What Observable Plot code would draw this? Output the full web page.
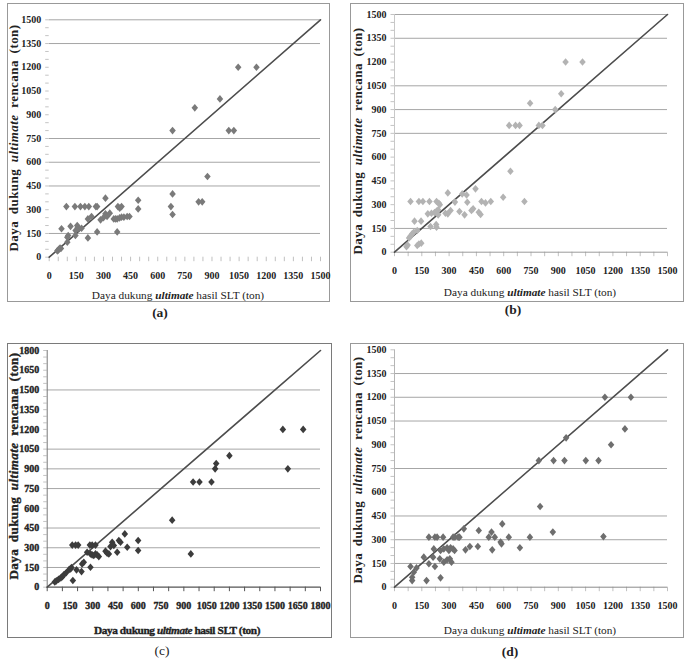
<!DOCTYPE html>
<html><head><meta charset="utf-8">
<script src="https://cdn.jsdelivr.net/npm/d3@7"></script>
<script src="https://cdn.jsdelivr.net/npm/@observablehq/plot@0.6"></script>
<style>
body{margin:0;background:#fff;}
#root{position:relative;width:686px;height:659px;font-family:"Liberation Serif","Times New Roman",serif;color:#222;overflow:hidden;}
.box{position:absolute;border:1px solid #8e8e8e;box-sizing:border-box;}
.plot{position:absolute;}
.ytitle{position:absolute;transform:translate(-50%,-50%) rotate(-90deg);white-space:nowrap;font-weight:bold;font-size:13px;letter-spacing:0.45px;word-spacing:3px;}
.xtitle{position:absolute;transform:translate(-50%,-50%);white-space:nowrap;font-size:11.3px;}
.cap{position:absolute;transform:translate(-50%,-50%);font-weight:bold;font-size:13.5px;}
.heavy{-webkit-text-stroke:0.35px #222;}
#pc svg text{stroke:#222;stroke-width:0.35px;}
</style>
</head><body>
<div id="root"></div>
<script>
// ---------- data ----------
const ticks1500 = [0,150,300,450,600,750,900,1050,1200,1350,1500];
const ticks1800 = [0,150,300,450,600,750,900,1050,1200,1350,1500,1650,1800];

const pointsA = [[45,40],[50,45],[55,52],[60,58],[65,55],[68,180],[95,320],[100,95],[100,126],[105,137],[118,195],[142,320],[145,137],[146,168],[155,200],[158,190],[165,180],[173,320],[179,183],[197,320],[214,122],[214,242],[219,320],[234,257],[258,320],[265,320],[265,160],[284,236],[300,250],[311,373],[311,274],[320,257],[335,278],[357,242],[367,242],[376,242],[376,160],[380,320],[390,310],[400,320],[389,248],[400,253],[413,253],[431,257],[444,257],[492,360],[492,305],[673,320],[682,800],[682,400],[682,270],[805,944],[826,350],[846,350],[875,510],[944,1000],[993,800],[1021,800],[1045,1200],[1146,1200]];

const pointsB = [[66,35],[72,45],[80,90],[88,100],[97,116],[106,126],[125,137],[110,196],[146,196],[125,42],[134,52],[147,57],[88,320],[134,320],[156,320],[192,320],[231,320],[244,309],[249,300],[183,242],[203,246],[220,250],[231,259],[240,267],[240,236],[198,162],[229,175],[231,158],[293,374],[308,263],[280,246],[293,242],[332,316],[357,257],[372,368],[385,236],[396,361],[400,315],[423,263],[432,274],[445,400],[463,252],[473,238],[478,320],[500,311],[529,320],[597,347],[637,511],[714,320],[630,800],[665,800],[687,800],[793,800],[813,800],[745,940],[883,900],[916,1000],[940,1200],[1033,1200]];

const pointsC = [[50,40],[60,48],[75,60],[90,70],[100,80],[110,95],[125,110],[145,135],[160,150],[154,139],[193,132],[169,51],[165,320],[187,320],[204,320],[226,119],[230,177],[241,190],[263,266],[281,320],[296,320],[318,320],[285,152],[285,253],[296,246],[307,241],[318,253],[329,246],[340,233],[384,274],[395,258],[406,253],[417,309],[428,342],[439,317],[461,266],[472,355],[483,342],[511,405],[527,304],[599,355],[599,279],[823,510],[946,253],[961,800],[1003,800],[1082,800],[1106,900],[1113,940],[1200,1000],[1552,1200],[1585,900],[1686,1200]];

const pointsD = [[88,131],[97,63],[97,42],[106,95],[121,122],[161,190],[176,42],[189,148],[222,131],[212,190],[249,179],[253,59],[271,158],[289,173],[304,179],[313,158],[189,316],[222,316],[234,316],[267,316],[322,316],[332,316],[350,316],[357,316],[381,369],[216,242],[253,232],[271,242],[289,249],[308,249],[322,242],[299,232],[330,232],[390,236],[414,257],[458,257],[463,358],[518,316],[533,348],[537,236],[551,316],[583,285],[588,274],[592,400],[628,316],[689,249],[744,316],[800,510],[870,348],[1148,320],[793,800],[874,800],[934,800],[1051,800],[1121,800],[943,944],[1190,900],[1266,1000],[1156,1200],[1299,1200]];

// visible horizontal gridlines in each panel
const gridA = [150,450,600,750,1350,1500];
const gridB = [150,750,900,1050,1350,1500];
const gridC = [150,300,450,750,900,1050,1500];
const gridD = [150,300,450,750,1050,1200,1350];

const labels = ["(a)","(b)","(c)","(d)"];

// ---------- drawing ----------
const diamond = {draw(ctx, size){const h=Math.sqrt(size)*0.6, w=h*0.85; ctx.moveTo(0,-h); ctx.lineTo(w,0); ctx.lineTo(0,h); ctx.lineTo(-w,0); ctx.closePath();}};
const root = document.getElementById("root");
const fmt = d3.format("d");

function add(cls, html, x, y, extra){
  const d = document.createElement("div");
  d.className = cls; d.innerHTML = html;
  d.style.left = x+"px"; d.style.top = y+"px";
  if (extra) Object.assign(d.style, extra);
  root.appendChild(d); return d;
}

const panels = [
  {id:"pa", pts:pointsA, grid:gridA, ticks:ticks1500, max:1500, left:0, top:0, m:[19.3,23,43.3,48.7], color:"#7a7a7a", xaxis:null, yaxis:null, minorStep:50, box:[7,3,323,299], yt:[13.5,138], xt:[178,295], cap:[160,313], heavy:false},
  {id:"pb", pts:pointsB, grid:gridB, ticks:ticks1500, max:1500, left:343, top:0, m:[14,19,48.3,51], color:"#b3b3b3", xaxis:"#9a9a9a", yaxis:"#c8c8c8", minorStep:75, box:[350,3,334,299], yt:[358,141], xt:[530,292], cap:[513,310], heavy:false},
  {id:"pc", pts:pointsC, grid:gridC, ticks:ticks1800, max:1800, left:0, top:330, m:[20,23,43.3,46.7], color:"#3c3c3c", xaxis:"#555", yaxis:"#777", minorStep:100, box:[7,343,325,295], yt:[13.5,466], xt:[177,630], cap:[162,651], heavy:true},
  {id:"pd", pts:pointsD, grid:gridD, ticks:ticks1500, max:1500, left:343, top:330, m:[19.3,19,43.3,51], color:"#6e6e6e", xaxis:"#8a8a8a", yaxis:"#b5b5b5", minorStep:75, box:[350,343,334,295], yt:[358,470], xt:[530,630], cap:[510,652], heavy:false}
];

panels.forEach((p, i) => {
  add("box", "", p.box[0], p.box[1], {width:p.box[2]+"px", height:p.box[3]+"px", borderColor: p.heavy ? "#7a7a7a" : "#999"});
  const W = 343, H = 300;
  const [mt, mr, mb, ml] = p.m;
  const unitsPerPx = p.max / (W - ml - mr);
  const unitsPerPxY = p.max / (H - mt - mb);
  const minor = d3.range(0, p.max + 1, p.minorStep);
  const minorY = d3.range(0, p.max + 1, 50);
  const diag = [0, p.max];
  const marks = [
    Plot.ruleY(p.grid, {stroke:"#a6a6a6", strokeWidth:1}),
    Plot.ruleY(minorY, {x1: -3.5*unitsPerPx, x2: 0, stroke:"#c4c4c4"}),
    Plot.ruleX(minor, {y1: -4.5*unitsPerPxY, y2: 0, stroke: p.heavy ? "#555" : "#c0c0c0"}),
  ];
  if (p.xaxis) marks.push(Plot.ruleY([0], {stroke:p.xaxis, strokeWidth: p.heavy ? 1.2 : 1}));
  if (p.yaxis) marks.push(Plot.ruleX([0], {stroke:p.yaxis}));
  marks.push(
    Plot.line(diag, {x: d => d, y: d => d, stroke:"#4d4d4d", strokeWidth:1.6}),
    Plot.dot(p.pts, {x: d => d[0], y: d => d[1], symbol: diamond, r: 3.6, fill: p.color, stroke: "none"}),
    Plot.axisX(p.ticks, {tickSize:0, tickPadding:15, label:null, fontWeight:"bold", tickFormat: fmt}),
    Plot.axisY(p.ticks, {tickSize:0, tickPadding:8, label:null, fontWeight:"bold", tickFormat: fmt})
  );
  const svg = Plot.plot({
    width: W, height: H,
    marginTop: mt, marginRight: mr, marginBottom: mb, marginLeft: ml,
    x: {domain:[0,p.max]},
    y: {domain:[0,p.max]},
    style: {fontFamily:"'Liberation Serif', 'Times New Roman', serif", fontSize:"10px", fontWeight:"bold", color:"#222", background:"transparent", overflow:"visible"},
    marks
  });
  const holder = document.createElement("div");
  holder.className = "plot"; holder.id = p.id;
  holder.style.left = p.left+"px"; holder.style.top = p.top+"px";
  holder.appendChild(svg);
  root.appendChild(holder);

  const h = p.heavy ? " heavy" : "";
  add("ytitle"+h, "Daya dukung <i>ultimate</i> rencana (ton)", p.yt[0], p.yt[1]);
  add("xtitle"+h, "Daya dukung <b><i>ultimate</i></b> hasil SLT (ton)", p.xt[0], p.xt[1], p.heavy ? {fontWeight:"bold", letterSpacing:"-0.4px"} : null);
  add("cap", labels[i], p.cap[0], p.cap[1], p.heavy ? {fontWeight:"normal"} : null);
});
</script>
</body></html>
